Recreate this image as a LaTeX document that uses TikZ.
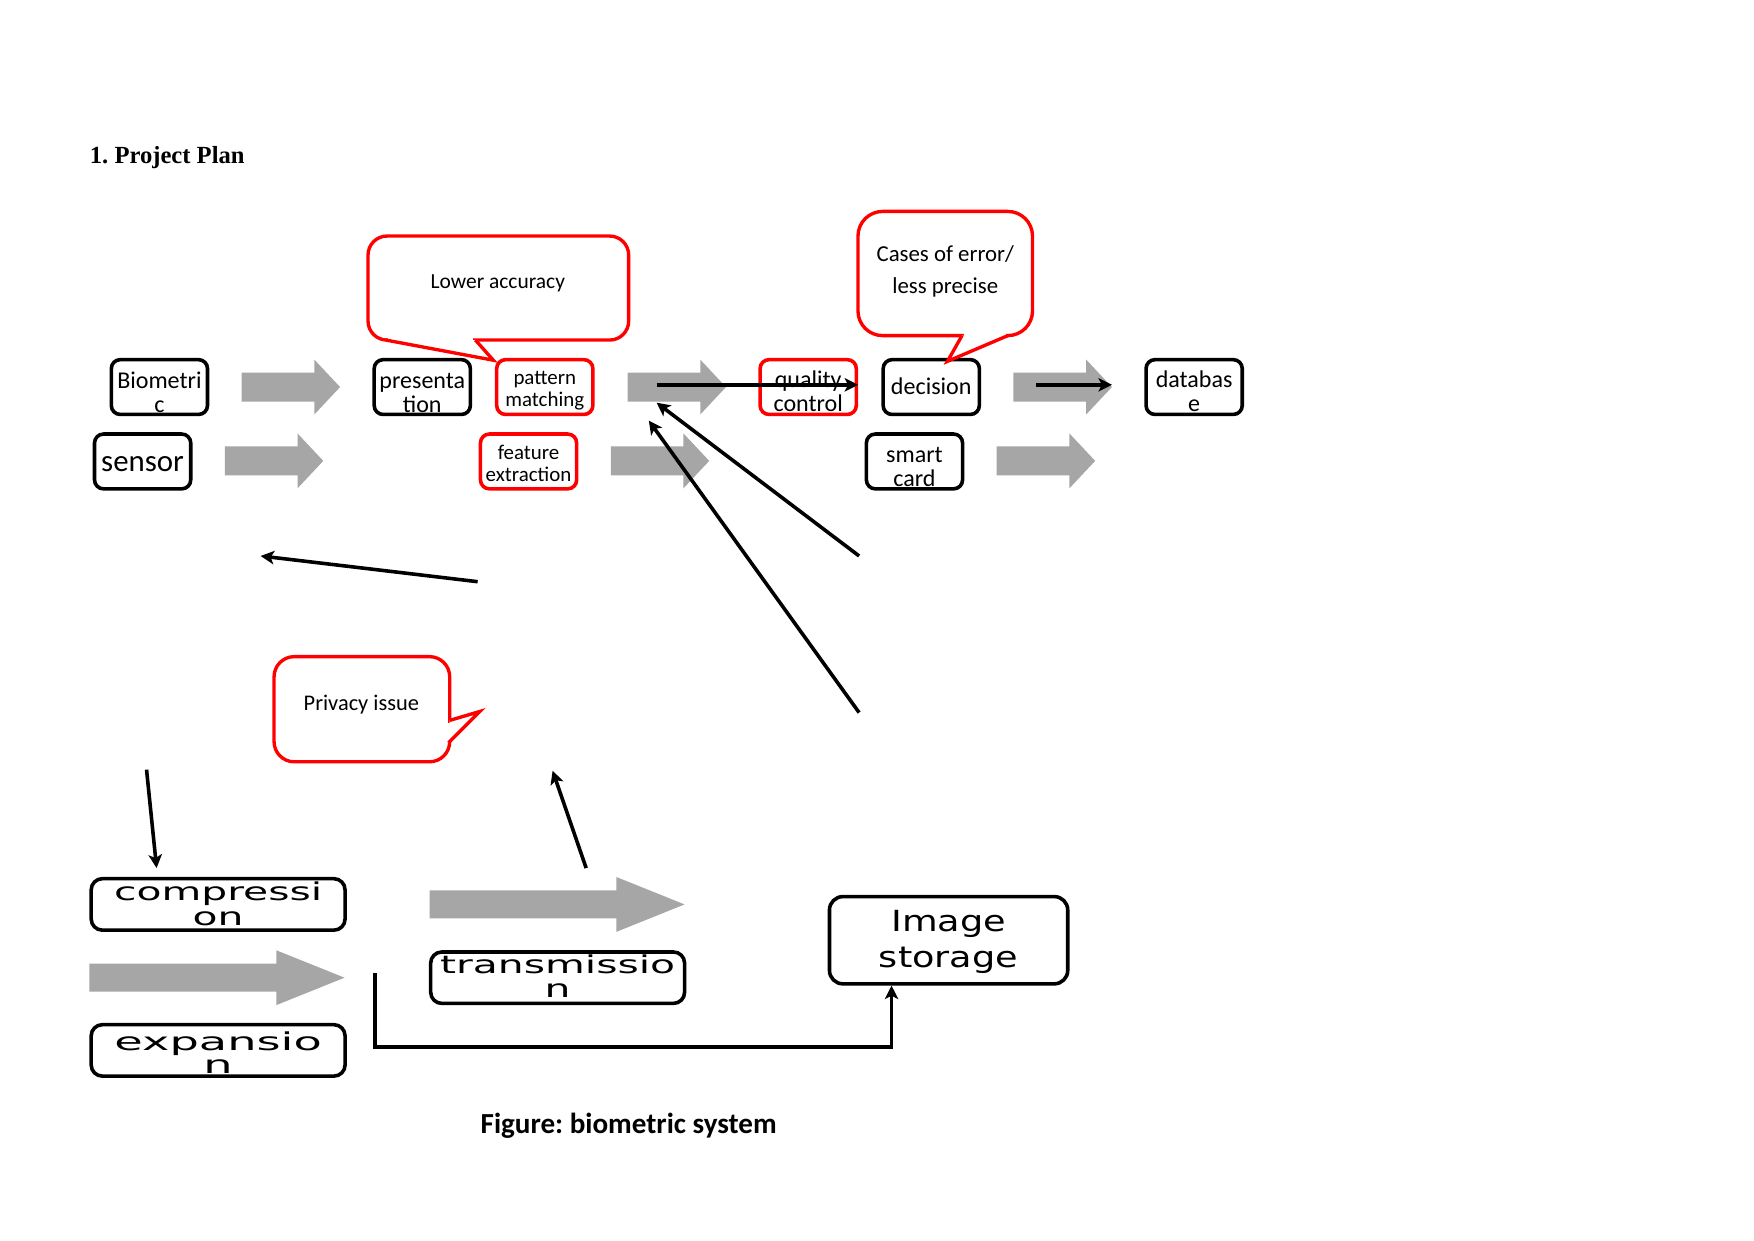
\documentclass[tikz,border=0pt]{standalone}
\usepackage{fontspec}
\setmainfont{Carlito}
\newfontfamily\titlefont{Liberation Serif}
\newfontfamily\widefont{DejaVu Sans}
\usetikzlibrary{arrows.meta}
\definecolor{garrow}{HTML}{A6A6A6}
\definecolor{cred}{HTML}{FF0000}
\frenchspacing
\newcommand\wline[2]{\scalebox{#1}[1]{#2}}
\newcommand\garw[3]{%
  \fill[garrow] (#1,#3-13) -- (#2-23,#3-13) -- (#2-23,#3-24.5) -- (#2,#3) -- (#2-23,#3+24.5) -- (#2-23,#3+13) -- (#1,#3+13) -- cycle;}
\newcommand\gbarw[3]{%
  \fill[garrow] (#1,#3-12.5) -- (#2-61,#3-12.5) -- (#2-61,#3-24.5) -- (#2,#3) -- (#2-61,#3+24.5) -- (#2-61,#3+12.5) -- (#1,#3+12.5) -- cycle;}
\tikzset{
  bbox/.style={draw=black, line width=1.6pt, rounded corners=4pt, minimum width=43pt, minimum height=24.5pt, inner sep=0pt, fill=white},
  rbox/.style={bbox, draw=cred},
  wbox/.style={bbox, minimum width=113.5pt, minimum height=23pt, rounded corners=5pt},
  lbl/.style={align=center, inner sep=0pt, anchor=base, font=\fontsize{10.75}{10.75}\selectfont},
  slbl/.style={lbl, font=\fontsize{9.35}{9.8}\selectfont},
  wlbl/.style={align=center, inner sep=0pt, anchor=base},
  blk/.style={line width=1.6pt, -{Stealth[length=6pt,width=6pt,inset=1.5pt]}},
  bubble/.style={draw=cred, line width=1.5pt, fill=white},
  tailside/.style={draw=cred, line width=1.5pt, line join=miter},
}
\begin{document}
\begin{tikzpicture}[x=0.5pt,y=-0.5pt]
\fill[white] (0,0) rectangle (1568,1109);
\useasboundingbox (0,0) rectangle (1568,1109);

% title and caption
\node[anchor=base west, inner sep=0pt, font=\titlefont\bfseries\fontsize{11}{13}\selectfont] (title) at (80,146) {1. Project Plan};
\node[anchor=base, inner sep=0pt, font=\bfseries\fontsize{13}{15}\selectfont] (caption) at (562,1013) {Figure: biometric system};

% grey block arrows
\garw{216}{304}{346}
\garw{201}{289}{412}
\garw{561}{649}{346}
\garw{546}{634}{412}
\garw{906}{994}{346}
\garw{891}{979}{412}
\gbarw{384}{612}{808.5}
\gbarw{80}{308}{874}

% boxes
\node[bbox] (bio) at (142.5,346) {};
\node[bbox] (sensor) at (127.5,412.5) {};
\node[bbox] (pres) at (377.5,346) {};
\node[rbox] (pm) at (487,346) {};
\node[rbox] (fe) at (472.5,412.5) {};
\node[rbox] (qc) at (722.5,346) {};
\node[bbox] (dec) at (832.5,346) {};
\node[bbox] (sc) at (817.5,412.5) {};
\node[bbox] (db) at (1067.5,346) {};
\node[wbox] (comp) at (195,808.5) {};
\node[wbox] (trans) at (498.5,874) {};
\node[wbox] (expn) at (195,939) {};
\node[bbox, minimum width=106.5pt, minimum height=39pt, rounded corners=6pt] (istor) at (848,840.5) {};

% box texts (anchor = baseline of the last line)
\node[lbl] (bio-t) at (142.5,369) {Biometri\\c};
\node[lbl, font=\fontsize{13.8}{14}\selectfont] (sensor-t) at (127.5,421.5) {sensor};
\node[lbl] (pres-t) at (377.5,369) {presenta\\tion};
\node[slbl] (pm-t) at (487,363.5) {pattern\\matching};
\node[slbl] (fe-t) at (472.5,430.6) {feature\\extraction};
\node[lbl] (qc-t) at (722.5,368) {quality\\control};
\node[lbl] (dec-t) at (832.5,353) {decision};
\node[lbl] (sc-t) at (817.5,435) {smart\\card};
\node[lbl] (db-t) at (1067.5,368) {databas\\e};
\node[wlbl, font=\widefont\fontsize{11}{11}\selectfont] (comp-t) at (195,827) {\wline{1.66}{compressi}\\\wline{1.66}{on}};
\node[wlbl, font=\widefont\fontsize{11}{11}\selectfont] (trans-t) at (498.5,892) {\wline{1.66}{transmissio}\\\wline{1.66}{n}};
\node[wlbl, font=\widefont\fontsize{11}{10.5}\selectfont] (expn-t) at (195,960) {\wline{1.88}{expansio}\\\wline{1.88}{n}};
\node[wlbl, font=\widefont\fontsize{13}{16}\selectfont] (istor-t) at (848,865) {\wline{1.26}{Image}\\\wline{1.26}{storage}};

% callout: Lower accuracy
\draw[bubble, rounded corners=8.5pt] (329,211) rectangle (562,304);
\fill[white] (347,300) -- (423,300) -- (423,308) -- (347,308) -- cycle;
\fill[white] (345,304) -- (441,322) -- (425,304) -- cycle;
\draw[tailside] (425,304) -- (441,322) -- (345,304);
\node[inner sep=0pt, font=\fontsize{9.6}{11}\selectfont] (la) at (445,253) {Lower accuracy};

% callout: Cases of error
\draw[bubble, rounded corners=11pt] (767,189) rectangle (923,300);
\fill[white] (862,296) -- (899,296) -- (899,304) -- (862,304) -- cycle;
\fill[white] (860,300) -- (847,323) -- (901,300) -- cycle;
\draw[tailside] (860,300) -- (847,323) -- (901,300);
\node[lbl, font=\fontsize{10.2}{14.5}\selectfont] (ce) at (845,262.5) {Cases of error/\\less precise};

% callout: Privacy issue
\draw[bubble, rounded corners=9pt] (245,587) rectangle (402,681);
\fill[white] (398,646) -- (406,646) -- (406,662) -- (398,662) -- cycle;
\fill[white] (402,644) -- (429,636) -- (401,664) -- cycle;
\draw[tailside] (402,644) -- (429,636) -- (401,664);
\node[inner sep=0pt, font=\fontsize{10}{12}\selectfont] (pi) at (323,630) {Privacy issue};

% black arrows
\coordinate (a1s) at (587,344);
\draw[blk] (a1s) -- (a1s -| qc.east);
\coordinate (a2s) at (926,344);
\coordinate (a2e) at (994,344);
\draw[blk] (a2s) -- (a2e);
\coordinate (a3s) at (768,497);
\coordinate (a3e) at (587,360);
\draw[blk] (a3s) -- (a3e);
\coordinate (a4s) at (768,637);
\coordinate (a4e) at (580,376);
\draw[blk] (a4s) -- (a4e);
\coordinate (a5s) at (427,520);
\coordinate (a5e) at (233,497);
\draw[blk] (a5s) -- (a5e);
\coordinate (a6s) at (131,688);
\coordinate (a6e) at (140,776);
\draw[blk] (a6s) -- (a6e);
\coordinate (a7s) at (524,776);
\coordinate (a7e) at (494,689);
\draw[blk] (a7s) -- (a7e);
\coordinate (a8s) at (335,870);
\coordinate (a8c1) at (335,936);
\coordinate (a8c2) at (797,936);
\draw[blk] (a8s) -- (a8c1) -- (a8c2) -- (a8c2 |- istor.south);
\end{tikzpicture}
\end{document}
